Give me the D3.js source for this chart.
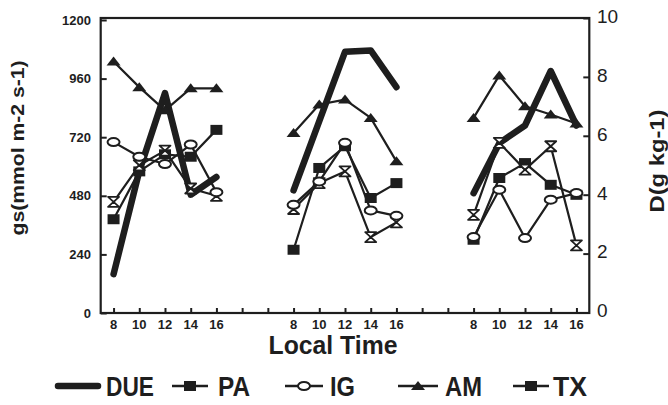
<!DOCTYPE html>
<html><head><meta charset="utf-8">
<script src="https://cdn.jsdelivr.net/npm/d3@7"></script>
<style>body{margin:0;background:#fff}svg{display:block}text{font-family:"Liberation Sans",Arial,sans-serif;fill:#1e1e1e}</style>
</head><body><svg id="c" width="668" height="405"></svg>
<script>
const hours = [8, 10, 12, 14, 16];
const days = [0, 1, 2];
const gsTicks = [0, 240, 480, 720, 960, 1200];
const dTicks = [0, 2, 4, 6, 8, 10];
// D (g kg-1), right axis
const DUE = [[1.3, 4.8, 7.45, 4.0, 4.6], [4.15, 6.5, 8.85, 8.9, 7.65], [4.05, 5.75, 6.35, 8.2, 6.35]];
// gs (mmol m-2 s-1), left axis
const PA = [[384, 580, 650, 640, 750], [259, 594, 683, 471, 532], [300, 553, 614, 525, 484]];
const IG = [[700, 640, 610, 690, 495], [443, 539, 697, 420, 398], [311, 505, 307, 464, 491]];
const AM = [[1030, 925, 830, 920, 920], [737, 854, 874, 799, 621], [799, 973, 847, 813, 776]];
const TX = [[455, 605, 665, 510, 480], [426, 532, 580, 311, 371], [402, 697, 587, 683, 277]];
const legendNames = ["DUE", "PA", "IG", "AM", "TX"];

const svg = d3.select("#c");
const ink = "#1e1e1e";
const pos = (d, i) => 7 * d + i; // slot index on the time axis
const x = d3.scaleLinear().domain([-0.5, 18.5]).range([100.7, 589.3]);
const yL = d3.scaleLinear().domain([0, 1200]).range([313, 20]);
const yR = d3.scaleLinear().domain([0, 10]).range([312.5, 18]);

// frame
svg.append("rect").attr("x", x(-0.5)).attr("y", 18).attr("width", x(18.5) - x(-0.5)).attr("height", 313 - 18)
  .attr("fill", "none").attr("stroke", ink).attr("stroke-width", 2.2);

// left axis
const gl = svg.append("g").attr("transform", `translate(${x(-0.5)},0)`)
  .call(d3.axisRight(yL).tickValues(gsTicks).tickSize(6).tickFormat(""));
gl.select(".domain").remove();
gl.selectAll("line").attr("stroke", ink).attr("stroke-width", 2);
svg.selectAll(".lt").data(gsTicks).join("text").attr("class", "lt")
  .attr("x", 91).attr("y", d => yL(d)).attr("dy", "0.36em").attr("text-anchor", "end")
  .attr("font-size", 13).attr("font-weight", "bold").text(d => d);

// right axis
const gr = svg.append("g").attr("transform", `translate(${x(18.5)},0)`)
  .call(d3.axisLeft(yR).tickValues(dTicks).tickSize(6).tickFormat(""));
gr.select(".domain").remove();
gr.selectAll("line").attr("stroke", ink).attr("stroke-width", 2);
svg.selectAll(".rt").data(dTicks).join("text").attr("class", "rt")
  .attr("x", 597).attr("y", d => yR(d) - 2).attr("dy", "0.36em")
  .attr("font-size", 19).text(d => d);

// bottom axis
const slots = d3.range(0, 19);
const gb = svg.append("g").attr("transform", "translate(0,313)")
  .call(d3.axisTop(x).tickValues(slots).tickSize(5).tickFormat(""));
gb.select(".domain").remove();
gb.selectAll("line").attr("stroke", ink).attr("stroke-width", 2);
const labs = [];
days.forEach(d => hours.forEach((h, i) => labs.push({ p: pos(d, i), h })));
svg.selectAll(".bt").data(labs).join("text").attr("class", "bt")
  .attr("x", d => x(d.p)).attr("y", 328.5).attr("text-anchor", "middle")
  .attr("font-size", 13).attr("font-weight", "bold").text(d => d.h);

// titles
svg.append("text").attr("x", 333).attr("y", 354).attr("text-anchor", "middle")
  .attr("font-size", 25).attr("font-weight", "bold").attr("textLength", 129)
  .attr("lengthAdjust", "spacingAndGlyphs").text("Local Time");
svg.append("text").attr("transform", "translate(24,148) rotate(-90)").attr("text-anchor", "middle")
  .attr("font-size", 19).attr("font-weight", "bold").attr("textLength", 175)
  .attr("lengthAdjust", "spacingAndGlyphs").text("gs(mmol m-2 s-1)");
svg.append("text").attr("transform", "translate(664,161) rotate(-90)").attr("text-anchor", "middle")
  .attr("font-size", 20).attr("font-weight", "bold").attr("textLength", 103)
  .attr("lengthAdjust", "spacingAndGlyphs").text("D(g kg-1)");

// markers
const markers = {
  square: "M-6,-5H6V5H-6Z",
  tri: "M-7,4L0,-5L7,4Z",
  hour: "M-5.5,-5H5.5L0,0ZM-5.5,5H5.5L0,0Z"
};
function drawMarker(g, type, cx, cy) {
  if (type === "circle") {
    g.append("ellipse").attr("cx", cx).attr("cy", cy).attr("rx", 6).attr("ry", 4)
      .attr("fill", "#fff").attr("stroke", ink).attr("stroke-width", 2);
  } else if (type === "hour") {
    g.append("path").attr("d", markers.hour).attr("transform", `translate(${cx},${cy})`)
      .attr("fill", "#fff").attr("stroke", ink).attr("stroke-width", 1.8).attr("stroke-linejoin", "round");
  } else {
    g.append("path").attr("d", markers[type]).attr("transform", `translate(${cx},${cy})`).attr("fill", ink);
  }
}

// DUE thick line
const lineR = d3.line().x(d => x(d.p)).y(d => yR(d.v));
const lineL = d3.line().x(d => x(d.p)).y(d => yL(d.v));
days.forEach(d => {
  svg.append("path").datum(DUE[d].map((v, i) => ({ p: pos(d, i), v })))
    .attr("d", lineR).attr("fill", "none").attr("stroke", ink).attr("stroke-width", 6.5)
    .attr("stroke-linecap", "round").attr("stroke-linejoin", "round");
});

const series = [
  { data: AM, m: "tri" },
  { data: PA, m: "square" },
  { data: TX, m: "hour" },
  { data: IG, m: "circle" }
];
series.forEach(s => {
  const g = svg.append("g");
  days.forEach(d => {
    const pts = s.data[d].map((v, i) => ({ p: pos(d, i), v }));
    g.append("path").datum(pts).attr("d", lineL).attr("fill", "none")
      .attr("stroke", ink).attr("stroke-width", 2.2).attr("stroke-linejoin", "round");
    pts.forEach(pt => drawMarker(g, s.m, x(pt.p), yL(pt.v)));
  });
});

// legend
const leg = [
  { name: legendNames[0], x1: 58, x2: 98, tx: 106, tw: 48, m: null },
  { name: legendNames[1], x1: 172, x2: 208, tx: 218, tw: 32, m: "square" },
  { name: legendNames[2], x1: 285, x2: 323, tx: 330, tw: 25, m: "circle" },
  { name: legendNames[3], x1: 398, x2: 438, tx: 445, tw: 37, m: "tri" },
  { name: legendNames[4], x1: 513, x2: 549, tx: 553, tw: 34, m: "square" }
];
const lg = svg.append("g");
leg.forEach(l => {
  lg.append("line").attr("x1", l.x1).attr("x2", l.x2).attr("y1", 386).attr("y2", 386)
    .attr("stroke", ink).attr("stroke-width", l.m ? 2.5 : 6.5).attr("stroke-linecap", l.m ? "butt" : "round");
  if (l.m) drawMarker(lg, l.m, (l.x1 + l.x2) / 2, 386);
  lg.append("text").attr("x", l.tx).attr("y", 395.5).attr("font-size", 27).attr("font-weight", "bold")
    .attr("textLength", l.tw).attr("lengthAdjust", "spacingAndGlyphs").text(l.name);
});
</script></body></html>
